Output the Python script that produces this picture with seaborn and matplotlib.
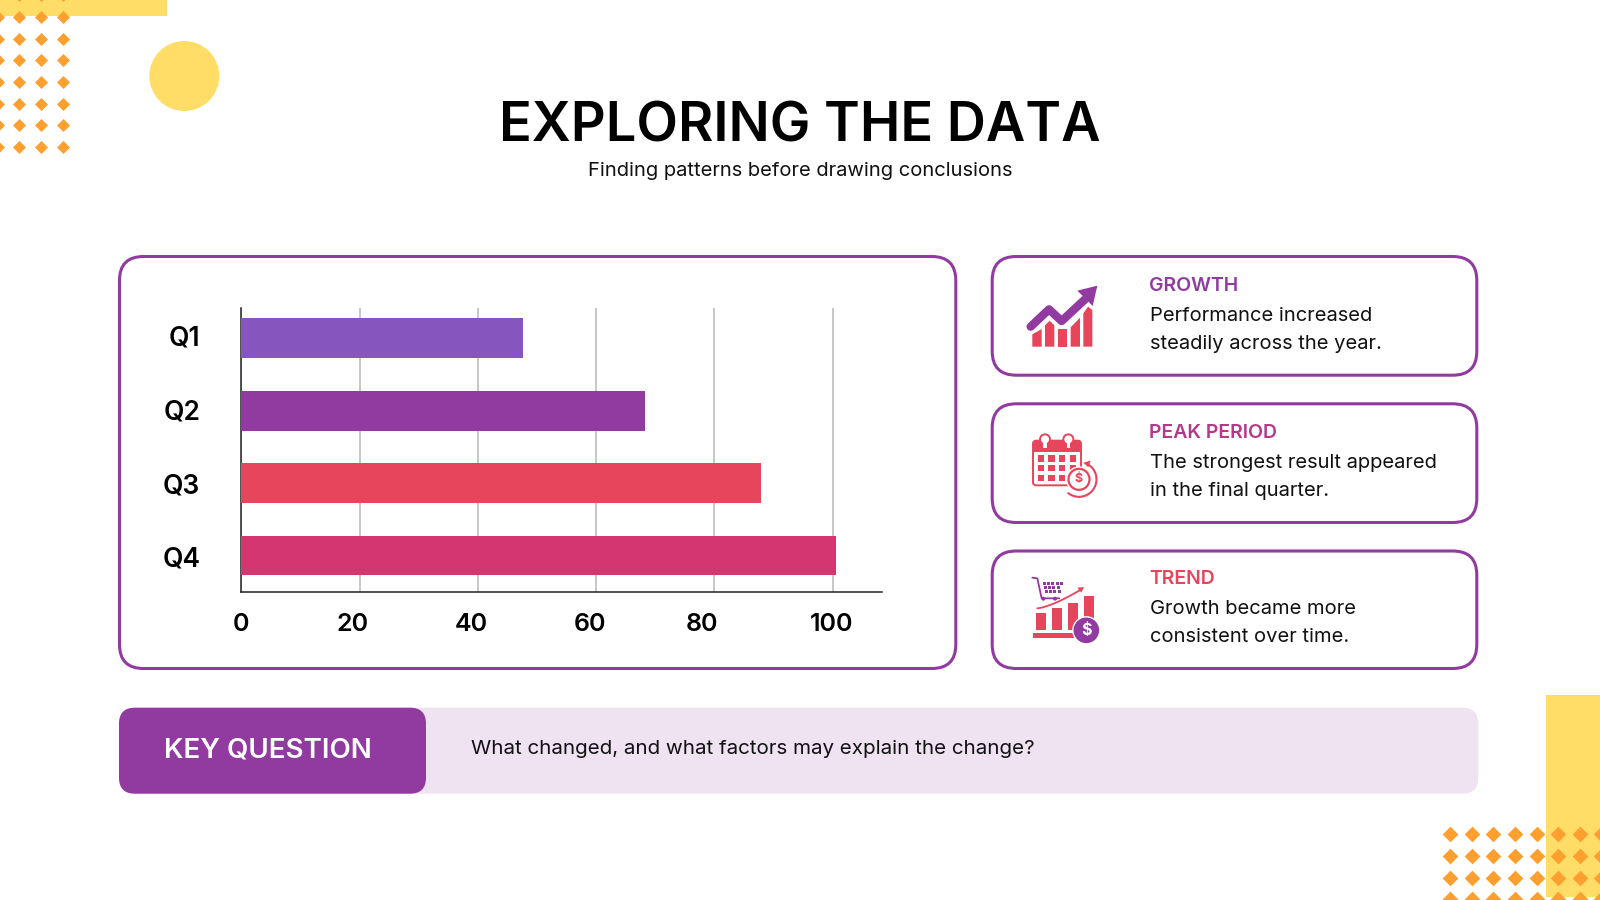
import matplotlib
matplotlib.use("Agg")
import matplotlib.pyplot as plt
import matplotlib.transforms as mtransforms
import numpy as np
import pandas as pd
import seaborn as sns
from matplotlib.patches import Circle, FancyBboxPatch, Polygon, Rectangle

QUARTERS = ["Q1", "Q2", "Q3", "Q4"]
VALUES = [47.7, 68.3, 87.9, 100.6]
BAR_COLORS = ["#8655BE", "#913AA0", "#E6455C", "#D43671"]
X_TICKS = [0, 20, 40, 60, 80, 100]

TITLE = "EXPLORING THE DATA"
SUBTITLE = "Finding patterns before drawing conclusions"
CARD_HEADS = ["GROWTH", "PEAK PERIOD", "TREND"]
CARD_HEAD_COLORS = ["#913AA0", "#B5388A", "#E6455C"]
CARD_LINES = [
    ["Performance increased", "steadily across the year."],
    ["The strongest result appeared", "in the final quarter."],
    ["Growth became more", "consistent over time."],
]
BANNER_HEAD = "KEY QUESTION"
BANNER_TEXT = "What changed, and what factors may explain the change?"

PURPLE = "#913AA0"
RED = "#E6455C"
YELLOW = "#FFDD66"
ORANGE = "#FF9F2F"
LILAC = "#EFE3F2"
FONT = "Inter"

# label centres in the source sit a little off their gridlines and bars
X_LABEL_SHIFT_PX = [-0.6, -7, -6.7, -6, -12, -1]
Y_LABEL_SHIFT_PX = [3, 1, 0, -1]


def card(bg, x0, y0, x1, y1, radius=24):
    bg.add_patch(
        FancyBboxPatch(
            (x0 + radius, y0 + radius), x1 - x0 - 2 * radius, y1 - y0 - 2 * radius,
            boxstyle=f"round,pad={radius},rounding_size={radius}",
            fc="white", ec=PURPLE, lw=2.2, zorder=2,
        )
    )


def box(bg, x0, y0, x1, y1, color, zorder=3):
    bg.add_patch(Rectangle((x0, y0), x1 - x0, y1 - y0, fc=color, ec="none", zorder=zorder))


def draw_decor(bg):
    box(bg, 0, 0, 166.7, 16, YELLOW, 1)
    bg.add_patch(Circle((184.3, 76), 35, fc=YELLOW, ec="none", zorder=1))
    box(bg, 1546, 695, 1600, 897, YELLOW, 1)

    xs, ys = np.meshgrid([-2.4, 19.3, 41, 62.7], [-5, 16.7, 38.5, 60, 82, 103.5, 125, 147])
    bg.scatter(xs.ravel(), ys.ravel(), marker="D", s=44, c=ORANGE, linewidths=0, zorder=2)
    xs, ys = np.meshgrid([1450, 1471.7, 1493.3, 1515, 1536.5, 1558, 1579.7, 1601], [834.3, 856, 877.6, 899])
    bg.scatter(xs.ravel(), ys.ravel(), marker="D", s=64, c=ORANGE, linewidths=0, zorder=2)


def draw_growth_icon(bg):
    ox, oy = 1000, 250
    shapes = [
        [(97, 290), (97, 253), (125, 237), (125, 290)],
        [(135, 290), (135, 226), (149, 212), (163, 226), (163, 290)],
        [(173, 290), (173, 237), (200, 237), (200, 290)],
        [(212, 290), (212, 232), (240, 203), (240, 290)],
        [(250, 290), (250, 190), (264, 170), (277, 180), (277, 290)],
    ]
    for shape in shapes:
        bg.add_patch(Polygon([(ox + x / 3, oy + y / 3) for x, y in shape], fc=RED, ec="none", zorder=3))
    px = np.array([92, 147, 185, 255]) / 3 + ox
    py = np.array([230, 178, 213, 148]) / 3 + oy
    bg.plot(px, py, color=PURPLE, lw=6, solid_capstyle="round", solid_joinstyle="round", zorder=4)
    head = [(ox + 232 / 3, oy + 122 / 3), (ox + 292 / 3, oy + 107 / 3), (ox + 278 / 3, oy + 168 / 3)]
    bg.add_patch(Polygon(head, fc=PURPLE, ec="none", zorder=4))


def draw_calendar_icon(bg):
    ox, oy = 1000, 410
    bg.add_patch(FancyBboxPatch((ox + 99 / 3, oy + 92 / 3), 144 / 3, 134 / 3, boxstyle="round,pad=0,rounding_size=3",
                                fc="white", ec=RED, lw=1.4, zorder=3))
    box(bg, ox + 98 / 3, oy + 92 / 3, ox + 244 / 3, oy + 125 / 3, RED, 4)
    for cx in [135, 205]:
        bg.add_patch(Circle((ox + cx / 3, oy + 88 / 3), 5, fc="white", ec=RED, lw=1.4, zorder=5))
        box(bg, ox + (cx - 5) / 3, oy + 92 / 3, ox + (cx + 6) / 3, oy + 115 / 3, "white", 5)
    for x0 in [113, 145, 177, 209]:
        for y0 in [136, 165, 195]:
            box(bg, ox + x0 / 3, oy + y0 / 3, ox + (x0 + 19) / 3, oy + (y0 + 19) / 3, RED, 4)
    cx, cy = ox + 237 / 3, oy + 208 / 3
    bg.add_patch(Circle((cx, cy), 13, fc="white", ec="none", zorder=5))
    bg.add_patch(Circle((cx, cy), 10.5, fc="white", ec=RED, lw=1.6, zorder=6))
    bg.text(cx, cy, "$", color=RED, fontsize=9, fontweight="bold", ha="center", va="center", zorder=7)
    theta = np.radians(np.linspace(-62, 128, 40))
    bg.plot(cx + 17.5 * np.cos(theta), cy + 17.5 * np.sin(theta), color=RED, lw=1.5, zorder=6)
    head = [(ox + 250 / 3, oy + 158 / 3), (ox + 272 / 3, oy + 152 / 3), (ox + 265 / 3, oy + 172 / 3)]
    bg.add_patch(Polygon(head, fc=RED, ec="none", zorder=6))


def draw_trend_icon(bg):
    ox, oy = 1000, 410
    for x0, x1, top in [(107, 137, 610), (155, 185, 595), (203, 233, 578), (251, 282, 557)]:
        box(bg, ox + x0 / 3, oy + top / 3, ox + x1 / 3, oy + 661 / 3, RED)
    box(bg, ox + 100 / 3, oy + 668 / 3, ox + 240 / 3, oy + 685 / 3, RED)
    cx, cy = ox + 259 / 3, oy + 661 / 3
    bg.add_patch(Circle((cx, cy), 13.5, fc=PURPLE, ec="white", lw=1, zorder=5))
    bg.text(cx, cy, "$", color="white", fontsize=11.5, fontweight="bold", ha="center", va="center", zorder=6)
    curve_t = np.linspace(0, 1, 20)
    curve_x = ox + (112 + 130 * curve_t) / 3
    curve_y = oy + (595 - 56 * curve_t ** 1.4) / 3
    bg.plot(curve_x, curve_y, color=RED, lw=1.3, zorder=4)
    head = [(ox + 252 / 3, oy + 531 / 3), (ox + 232 / 3, oy + 533 / 3), (ox + 244 / 3, oy + 548 / 3)]
    bg.add_patch(Polygon(head, fc=RED, ec="none", zorder=4))
    # cart
    cart_x = ox + np.array([97, 112, 125, 178]) / 3
    cart_y = oy + np.array([503, 505, 565, 565]) / 3
    bg.plot(cart_x, cart_y, color=PURPLE, lw=1.3, zorder=4)
    for row, y0 in enumerate([516, 528, 540]):
        for x0 in range(128 + row * 3, 186 - row * 5, 13):
            box(bg, ox + x0 / 3, oy + y0 / 3, ox + (x0 + 9) / 3, oy + (y0 + 8) / 3, PURPLE, 4)
    for wx in [130, 165]:
        bg.add_patch(Circle((ox + wx / 3, oy + 566 / 3), 2, fc=PURPLE, ec="none", zorder=4))


def draw_frame(bg):
    card(bg, 119.5, 256.5, 955.8, 668.5)
    card(bg, 992.2, 256.5, 1476.8, 375.2)
    card(bg, 992.2, 403.8, 1476.8, 522.5)
    card(bg, 992.2, 551, 1476.8, 668.5)

    bg.add_patch(FancyBboxPatch((135, 723.7), 1327.3, 54, boxstyle="round,pad=16,rounding_size=16",
                                fc=LILAC, ec="none", zorder=2))
    bg.add_patch(FancyBboxPatch((135, 723.7), 275, 54, boxstyle="round,pad=16,rounding_size=16",
                                fc=PURPLE, ec="none", zorder=3))
    bg.text(268, 750.5, BANNER_HEAD, color="white", fontsize=20, fontweight="semibold",
            ha="center", va="center", zorder=4)
    bg.text(471.4, 749.5, BANNER_TEXT, color="#111111", fontsize=14.8, ha="left", va="center", zorder=4)

    bg.text(800, 141, TITLE, color="black", fontsize=39, fontweight="semibold", ha="center", va="baseline", zorder=4)
    bg.text(800, 176, SUBTITLE, color="#111111", fontsize=14.5, ha="center", va="baseline", zorder=4)

    for row, head in enumerate(CARD_HEADS):
        top = 146.5 * row
        bg.text(1149, 291 + top, head, color=CARD_HEAD_COLORS[row], fontsize=14, fontweight="semibold",
                ha="left", va="baseline", zorder=4)
        for line_no, line in enumerate(CARD_LINES[row]):
            bg.text(1150, 321 + top + 28 * line_no, line, color="#111111", fontsize=14.5,
                    ha="left", va="baseline", zorder=4)


def draw_chart(fig):
    ax = fig.add_axes([241.3 / 1600, 1 - 591.7 / 900, (882.3 - 241.3) / 1600, (591.7 - 308) / 900], zorder=2)
    ax.patch.set_alpha(0)
    frame = pd.DataFrame({"quarter": QUARTERS, "value": VALUES})
    sns.barplot(data=frame, x="value", y="quarter", hue="quarter", palette=BAR_COLORS, width=0.55,
                saturation=1, legend=False, dodge=False, linewidth=0, ax=ax, zorder=3)
    ax.set_xlim(0, 108.4)
    ax.set_ylim(3.5, -0.42)
    ax.set_xlabel("")
    ax.set_ylabel("")
    ax.set_xticks(X_TICKS)
    ax.set_xticklabels([str(v) for v in X_TICKS])
    ax.set_axisbelow(True)
    ax.grid(axis="x", color="#B8B8B8", lw=1.1)
    ax.grid(axis="y", visible=False)
    sns.despine(ax=ax)
    for side in ["left", "bottom"]:
        ax.spines[side].set_color("#222222")
        ax.spines[side].set_linewidth(1.1)
    ax.tick_params(axis="x", length=0, pad=15, labelsize=18, labelcolor="black")
    ax.tick_params(axis="y", length=0, pad=29.5, labelsize=19, labelcolor="black")
    for label in ax.get_xticklabels() + ax.get_yticklabels():
        label.set_fontweight("semibold")
    for label, shift in zip(ax.get_xticklabels(), X_LABEL_SHIFT_PX):
        label.set_transform(label.get_transform() + mtransforms.Affine2D().translate(shift, 0))
    for label, shift in zip(ax.get_yticklabels(), Y_LABEL_SHIFT_PX):
        label.set_transform(label.get_transform() + mtransforms.Affine2D().translate(0, shift))


def main():
    sns.set_theme(style="white")
    plt.rcParams["font.family"] = [FONT, "DejaVu Sans"]

    fig = plt.figure(figsize=(16, 9), dpi=100, facecolor="white")
    bg = fig.add_axes([0, 0, 1, 1], zorder=1)
    bg.set_xlim(0, 1600)
    bg.set_ylim(900, 0)
    bg.axis("off")

    draw_decor(bg)
    draw_frame(bg)
    draw_growth_icon(bg)
    draw_calendar_icon(bg)
    draw_trend_icon(bg)
    draw_chart(fig)

    fig.savefig("out.png", dpi=100)
    plt.close(fig)


if __name__ == "__main__":
    main()
